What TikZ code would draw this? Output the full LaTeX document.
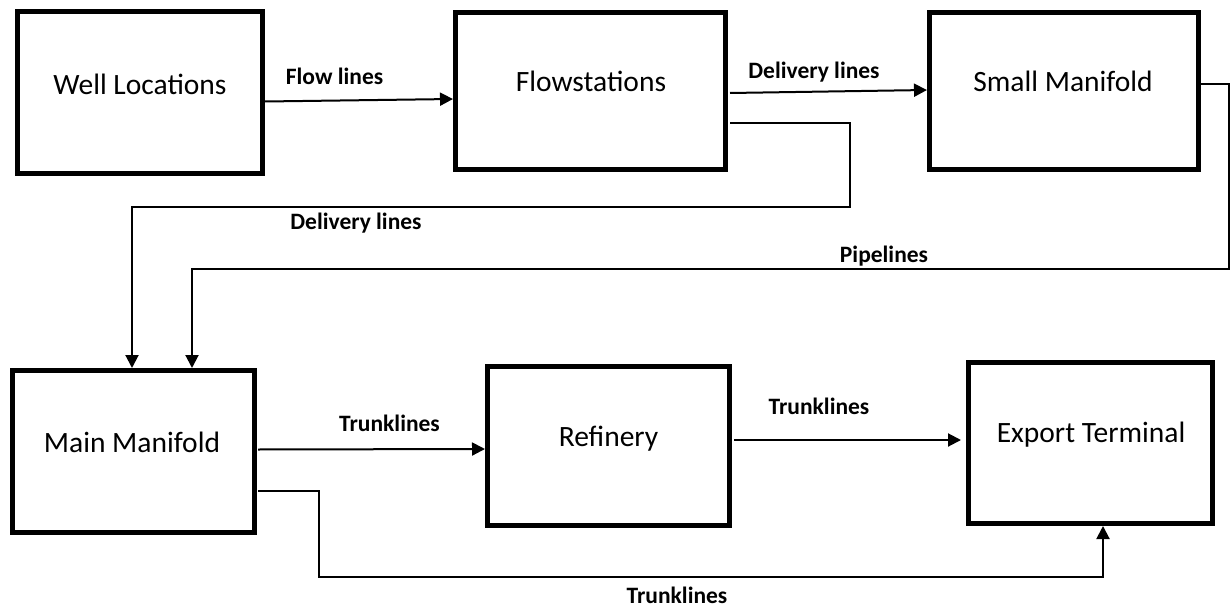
\documentclass[tikz,border=0pt]{standalone}
\usepackage{fontspec}
\setmainfont{Carlito}
\usetikzlibrary{arrows.meta,calc}
\begin{document}
\begin{tikzpicture}[x=1pt,y=-1pt,
  box/.style={draw, line width=5pt, inner sep=0pt, minimum width=#1},
  boxtext/.style={anchor=base, inner sep=0pt, font=\fontsize{29.5}{35}\selectfont},
  lbl/.style={anchor=base, inner sep=0pt, font=\bfseries\fontsize{23.5}{28}\selectfont},
  conn/.style={line width=2pt, -{Triangle[length=13pt,width=13pt]}}]
\useasboundingbox (0,0) rectangle (1231,607);
% boxes
\node[box=245pt, minimum height=162pt] (wl) at (140,92.5) {};
\node[box=270pt, minimum height=157pt] (fs) at (590.5,91) {};
\node[box=269pt, minimum height=157pt] (sm) at (1064,91) {};
\node[box=242pt, minimum height=162pt] (mm) at (133.5,451.5) {};
\node[box=242pt, minimum height=159pt] (rf) at (608.5,446) {};
\node[box=244pt, minimum height=161pt] (et) at (1090.5,443) {};
% box texts
\node[boxtext] (wlt) at (140,94.5) {Well Locations};
\node[boxtext] (fst) at (591,91.5) {Flowstations};
\node[boxtext] (smt) at (1063,91.5) {Small Manifold};
\node[boxtext] (mmt) at (132,452.5) {Main Manifold};
\node[boxtext] (rft) at (608.5,446.5) {Refinery};
\node[boxtext] (ett) at (1091,442.5) {Export Terminal};
% connectors
\draw[conn] ($(wl.east)+(0,9)$) -- ($(fs.west)+(0,8)$);
\draw[conn] ($(fs.east)+(2,2)$) -- ($(sm.west)+(0,-1)$);
\draw[conn] ($(fs.east)+(2,32)$) -| (850,207) -| ($(mm.north west)+(122,0)$);
\draw[conn] ($(sm.east)+(0,-7)$) -| (1229,269) -| ($(mm.north west)+(182,0)$);
\draw[conn] ($(mm.east)+(1,-2)$) -- ($(rf.west)+(0,3)$);
\draw[conn] ($(rf.east)+(2,-6)$) -- ($(et.west)+(-5,-3)$);
\draw[conn] ($(mm.east)+(1,39.5)$) -| (319,577) -| ($(et.south west)+(137,0)$);
% labels
\node[lbl] (l1) at (334.5,84.5) {Flow lines};
\node[lbl] (l2) at (814,78.5) {Delivery lines};
\node[lbl] (l3) at (356,229.5) {Delivery lines};
\node[lbl] (l4) at (884,262.5) {Pipelines};
\node[lbl] (l5) at (389.5,431.5) {Trunklines};
\node[lbl] (l6) at (819,414.5) {Trunklines};
\node[lbl] (l7) at (677,603) {Trunklines};
\end{tikzpicture}
\end{document}
